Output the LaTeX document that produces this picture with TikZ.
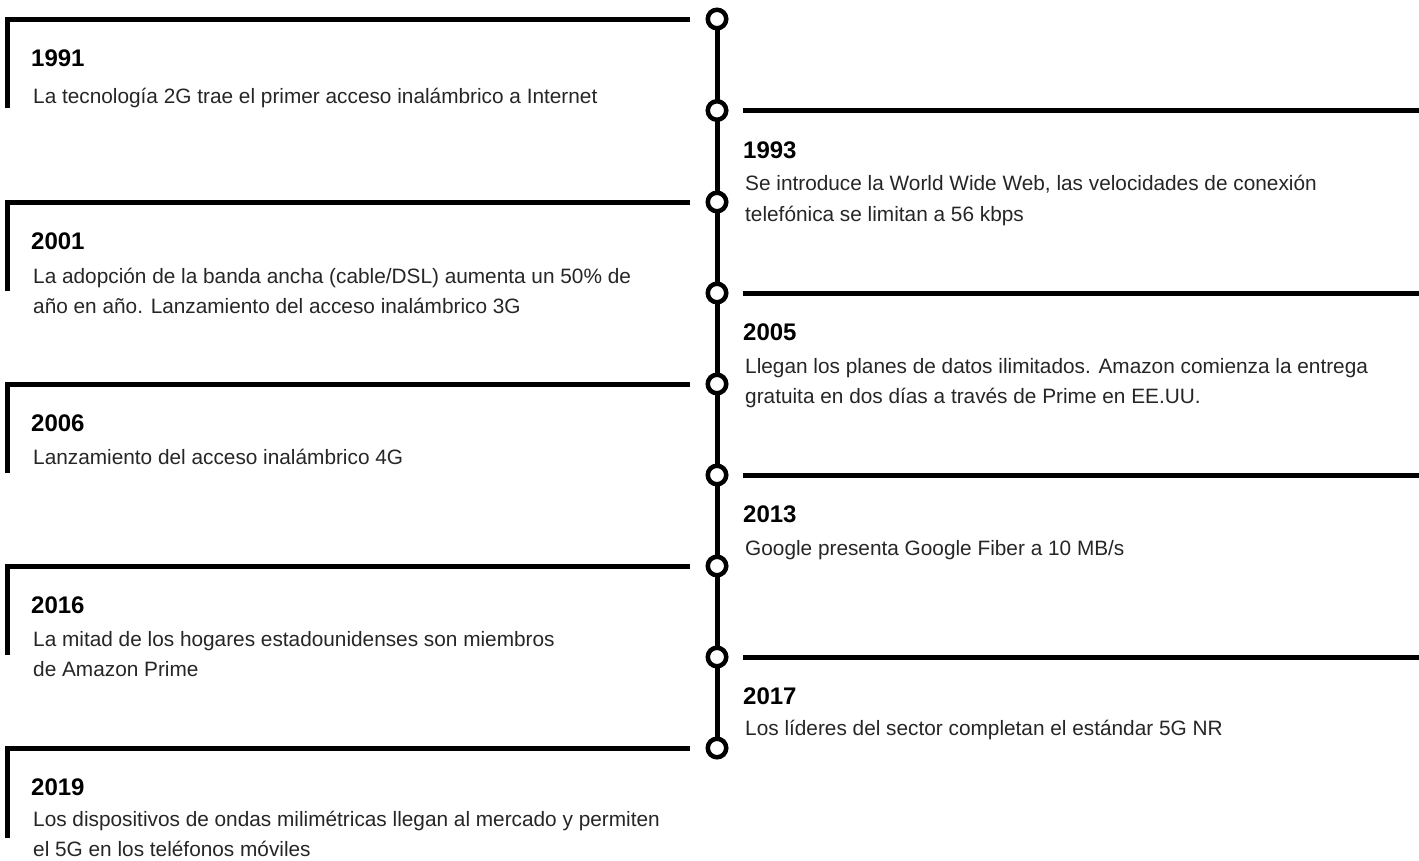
\documentclass[tikz,border=0pt]{standalone}
\usepackage{fontspec}
\setmainfont{Liberation Sans}
\begin{document}
\begin{tikzpicture}[x=1pt,y=-1pt]
\tikzset{
  bar/.style={line width=5pt, line join=miter, line cap=butt, draw=black},
  dot/.style={circle, draw=black, line width=4.5pt, fill=white, minimum size=18.5pt, inner sep=0pt},
  yearlabel/.style={anchor=base west, inner sep=0pt, font=\fontsize{24}{28}\selectfont\bfseries, text=black},
  desclabel/.style={anchor=base west, inner sep=0pt, align=left, font=\fontsize{20.8}{30.5}\selectfont, text=black!85},
}
\useasboundingbox (0,0) rectangle (1419,860);
\fill[white] (0,0) rectangle (1419,860);

% spine positions
\coordinate (p1) at (717,19);
\coordinate (p2) at (717,110.5);
\coordinate (p3) at (717,202);
\coordinate (p4) at (717,293);
\coordinate (p5) at (717,384);
\coordinate (p6) at (717,475);
\coordinate (p7) at (717,566);
\coordinate (p8) at (717,657);
\coordinate (p9) at (717,748);
\draw[bar] (p1) -- (p9);

% left brackets
\coordinate (la1) at (7.5,108); \coordinate (lb1) at (690,19);
\coordinate (la3) at (7.5,291); \coordinate (lb3) at (690,202);
\coordinate (la5) at (7.5,473); \coordinate (lb5) at (690,384);
\coordinate (la7) at (7.5,655); \coordinate (lb7) at (690,566);
\coordinate (la9) at (7.5,838); \coordinate (lb9) at (690,748);
\draw[bar] (la1) |- (lb1);
\draw[bar] (la3) |- (lb3);
\draw[bar] (la5) |- (lb5);
\draw[bar] (la7) |- (lb7);
\draw[bar] (la9) |- (lb9);

% right lines
\coordinate (ra2) at (743,110.5); \coordinate (rb2) at (1425,110.5);
\coordinate (ra4) at (743,293);   \coordinate (rb4) at (1425,293);
\coordinate (ra6) at (743,475);   \coordinate (rb6) at (1425,475);
\coordinate (ra8) at (743,657);   \coordinate (rb8) at (1425,657);
\draw[bar] (ra2) -- (rb2);
\draw[bar] (ra4) -- (rb4);
\draw[bar] (ra6) -- (rb6);
\draw[bar] (ra8) -- (rb8);

% circles
\node[dot] (c1) at (p1) {};
\node[dot] (c2) at (p2) {};
\node[dot] (c3) at (p3) {};
\node[dot] (c4) at (p4) {};
\node[dot] (c5) at (p5) {};
\node[dot] (c6) at (p6) {};
\node[dot] (c7) at (p7) {};
\node[dot] (c8) at (p8) {};
\node[dot] (c9) at (p9) {};

% left texts (two-line nodes are placed by their last baseline)
\node[yearlabel] (y1) at (31,66.5) {1991};
\node[desclabel] (d1) at (33,103) {La tecnología 2G trae el primer acceso inalámbrico a Internet};
\node[yearlabel] (y3) at (31,249.5) {2001};
\node[desclabel] (d3) at (33,313.5) {La adopción de la banda ancha (cable/DSL) aumenta un 50\% de\\año en año. Lanzamiento del acceso inalámbrico 3G};
\node[yearlabel] (y5) at (31,431.5) {2006};
\node[desclabel] (d5) at (33,464) {Lanzamiento del acceso inalámbrico 4G};
\node[yearlabel] (y7) at (31,613.5) {2016};
\node[desclabel] (d7) at (33,676.5) {La mitad de los hogares estadounidenses son miembros\\de Amazon Prime};
\node[yearlabel] (y9) at (31,795.5) {2019};
\node[desclabel] (d9) at (33,856.5) {Los dispositivos de ondas milimétricas llegan al mercado y permiten\\el 5G en los teléfonos móviles};

% right texts
\node[yearlabel] (y2) at (743,158) {1993};
\node[desclabel] (d2) at (745,221) {Se introduce la World Wide Web, las velocidades de conexión\\telefónica se limitan a 56 kbps};
\node[yearlabel] (y4) at (743,340.5) {2005};
\node[desclabel] (d4) at (745,403.5) {Llegan los planes de datos ilimitados. Amazon comienza la entrega\\gratuita en dos días a través de Prime en EE.UU.};
\node[yearlabel] (y6) at (743,522.5) {2013};
\node[desclabel] (d6) at (745,555) {Google presenta Google Fiber a 10 MB/s};
\node[yearlabel] (y8) at (743,704.5) {2017};
\node[desclabel] (d8) at (745,735) {Los líderes del sector completan el estándar 5G NR};
\end{tikzpicture}
\end{document}
